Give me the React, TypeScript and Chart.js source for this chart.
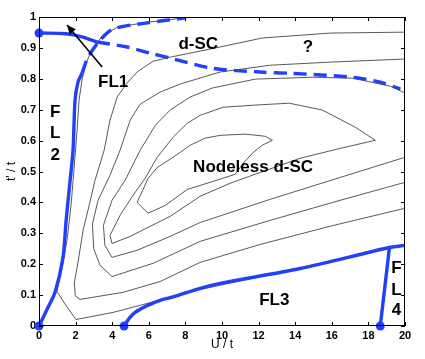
import React, { useEffect, useRef } from 'react';
import { Chart, registerables } from 'chart.js';
Chart.register(...registerables);

// ---- axes ----
const xTicks = [0, 2, 4, 6, 8, 10, 12, 14, 16, 18, 20];
const yTicks = [0, 0.1, 0.2, 0.3, 0.4, 0.5, 0.6, 0.7, 0.8, 0.9, 1];
const yTickLabels = ['0', '0.1', '0.2', '0.3', '0.4', '0.5', '0.6', '0.7', '0.8', '0.9', '1'];
const xTitle = 'U / t';
const yTitle = "t' / t";

// ---- phase boundaries (U/t, t'/t) ----
const fl1Solid: number[][] = [[0, 0.948], [1.5, 0.946], [2.4, 0.935], [3.17, 0.919]];
const fl1Dashed: number[][] = [[3.17, 0.919], [4.81, 0.903], [6.07, 0.883], [7.17, 0.867], [9.46, 0.834], [12.09, 0.822], [13.68, 0.818], [17.12, 0.805], [18.65, 0.789], [19.75, 0.767]];
const fl2Solid: number[][] = [[0, 0], [0.44, 0.054], [0.88, 0.11], [1.31, 0.222], [1.48, 0.34], [1.59, 0.407], [1.7, 0.471], [1.86, 0.569], [1.97, 0.731], [2.13, 0.789], [2.35, 0.818]];
const upperDashed: number[][] = [[2.35, 0.818], [2.68, 0.87], [3.34, 0.925], [4.05, 0.961], [5.91, 0.981], [7.99, 0.997]];
const fl3Solid: number[][] = [[4.65, 0], [4.92, 0.024], [5.25, 0.044], [5.91, 0.066], [6.62, 0.083], [7.33, 0.094], [8.81, 0.122], [9.9, 0.138], [14.28, 0.186], [19.15, 0.254], [20, 0.261]];
const fl4Solid: number[][] = [[19.15, 0.254], [18.65, 0]];
const endDots: number[][] = [[0, 0.948], [0, 0], [4.65, 0], [18.65, 0]];
const arrowLine: number[][] = [[3.45, 0.838], [1.53, 0.974]];

// ---- contour lines of the order parameter ----
const contour0: number[][] = [[8.37, 1.0], [7.88, 0.997], [6.07, 0.984], [4.32, 0.968], [3.5, 0.941], [2.95, 0.899], [2.57, 0.851], [2.35, 0.796], [2.19, 0.731], [2.08, 0.633], [1.91, 0.504], [1.75, 0.39], [1.53, 0.277], [1.26, 0.186], [0.98, 0.112], [1.48, 0.066], [2.02, 0.021], [4.05, 0.044], [5.91, 0.073], [7.44, 0.096], [8.81, 0.118], [12.09, 0.16], [15.92, 0.209], [19.15, 0.251], [20, 0.261]];
const contour1: number[][] = [[20, 0.951], [15.92, 0.948], [12.2, 0.932], [9.9, 0.903], [7.17, 0.87], [6.24, 0.857], [5.36, 0.822], [4.81, 0.786], [4.27, 0.741], [3.88, 0.666], [3.56, 0.569], [3.06, 0.471], [2.74, 0.39], [2.41, 0.31], [2.13, 0.206], [1.93, 0.14], [1.98, 0.098], [2.24, 0.086], [4.6, 0.109], [6.62, 0.144], [8.81, 0.206], [12.09, 0.264], [15.92, 0.323], [20, 0.381]];
const contour2: number[][] = [[20, 0.864], [15.92, 0.854], [12.64, 0.844], [9.9, 0.822], [7.71, 0.783], [6.62, 0.757], [5.53, 0.718], [4.98, 0.666], [4.43, 0.569], [3.88, 0.488], [3.23, 0.407], [2.92, 0.33], [2.99, 0.25], [3.34, 0.196], [3.99, 0.16], [6.24, 0.203], [8.81, 0.274], [12.64, 0.342], [16.47, 0.407], [20, 0.465]];
const contour3: number[][] = [[20, 0.754], [19.2, 0.776], [17.12, 0.802], [14.93, 0.805], [11.82, 0.799], [9.46, 0.77], [8.26, 0.741], [7.17, 0.699], [6.35, 0.649], [5.53, 0.569], [4.7, 0.471], [3.99, 0.407], [3.52, 0.326], [3.6, 0.261], [3.99, 0.222], [5.36, 0.245], [7.17, 0.29], [8.81, 0.335], [12.64, 0.41], [16.47, 0.481], [20, 0.546]];
const contour4: number[][] = [[18.38, 0.601], [17.29, 0.643], [15.48, 0.699], [13.68, 0.721], [11.82, 0.715], [10.07, 0.708], [8.81, 0.682], [8.1, 0.656], [7.33, 0.611], [6.46, 0.546], [5.8, 0.478], [5.14, 0.423], [4.43, 0.358], [3.88, 0.293], [3.99, 0.267], [4.98, 0.29], [7.17, 0.355], [8.81, 0.42], [10.45, 0.462], [12.09, 0.497], [14.28, 0.543], [16.47, 0.575], [18.38, 0.601]];
const contour5: number[][] = [[5.36, 0.4], [5.69, 0.442], [5.96, 0.478], [6.46, 0.513], [7.33, 0.546], [8.26, 0.585], [9.08, 0.608], [9.9, 0.617], [11.27, 0.621], [12.36, 0.614], [12.75, 0.601], [12.2, 0.585], [11.71, 0.562], [11.16, 0.527], [10.72, 0.491], [9.35, 0.465], [8.1, 0.442], [6.89, 0.39], [5.96, 0.365], [5.36, 0.4]];
const contours = [contour0, contour1, contour2, contour3, contour4, contour5];

// ---- text annotations (data coordinates) ----
const annotationTexts = ['d-SC', '?', 'FL1', 'F', 'L', '2', 'Nodeless d-SC', 'FL3', 'F', 'L', '4'];
const annotationX = [8.7, 14.7, 4.05, 0.88, 0.88, 0.88, 11.7, 12.86, 19.53, 19.53, 19.53];
const annotationY = [0.912, 0.903, 0.789, 0.692, 0.624, 0.553, 0.513, 0.083, 0.186, 0.115, 0.05];

const BLUE = 'rgb(32,64,250)';
const FONT = '"Liberation Sans", Arial, Helvetica, sans-serif';

const toXY = (pts: number[][]) => pts.map(([x, y]) => ({ x, y }));

const overlayPlugin = {
  id: 'overlay',
  afterDatasetsDraw(chart: any) {
    const { ctx, chartArea, scales } = chart;
    const { left, right, top, bottom } = chartArea;
    const xs = scales.x;
    const ys = scales.y;
    ctx.save();
    // frame
    ctx.strokeStyle = '#000';
    ctx.lineWidth = 1;
    ctx.strokeRect(left + 0.5, top + 0.5, right - left - 1, bottom - top - 1);
    // inward ticks on all sides
    const tl = 4;
    ctx.beginPath();
    xTicks.forEach((v) => {
      const px = Math.round(xs.getPixelForValue(v)) + 0.5;
      ctx.moveTo(px, bottom);
      ctx.lineTo(px, bottom - tl);
      ctx.moveTo(px, top);
      ctx.lineTo(px, top + tl);
    });
    yTicks.forEach((v) => {
      const py = Math.round(ys.getPixelForValue(v)) + 0.5;
      ctx.moveTo(left, py);
      ctx.lineTo(left + tl, py);
      ctx.moveTo(right, py);
      ctx.lineTo(right - tl, py);
    });
    ctx.stroke();
    // arrow head
    const [t0, t1] = arrowLine;
    const ax0 = xs.getPixelForValue(t0[0]);
    const ay0 = ys.getPixelForValue(t0[1]);
    const ax1 = xs.getPixelForValue(t1[0]);
    const ay1 = ys.getPixelForValue(t1[1]);
    const ang = Math.atan2(ay1 - ay0, ax1 - ax0);
    const hl = 9;
    const hw = 4;
    ctx.fillStyle = '#000';
    ctx.beginPath();
    ctx.moveTo(ax1, ay1);
    ctx.lineTo(ax1 - hl * Math.cos(ang) + hw * Math.sin(ang), ay1 - hl * Math.sin(ang) - hw * Math.cos(ang));
    ctx.lineTo(ax1 - hl * Math.cos(ang) - hw * Math.sin(ang), ay1 - hl * Math.sin(ang) + hw * Math.cos(ang));
    ctx.closePath();
    ctx.fill();
    // text labels
    ctx.font = `bold 17px ${FONT}`;
    ctx.textAlign = 'center';
    ctx.textBaseline = 'middle';
    annotationTexts.forEach((t, i) => {
      ctx.fillText(t, xs.getPixelForValue(annotationX[i]), ys.getPixelForValue(annotationY[i]));
    });
    ctx.restore();
  },
};

export default function App() {
  const canvasRef = useRef<HTMLCanvasElement | null>(null);

  useEffect(() => {
    if (!canvasRef.current) return;
    Chart.defaults.font.family = FONT;
    const datasets: any[] = [
      { data: toXY(endDots), showLine: false, pointRadius: 4.5, pointHoverRadius: 4.5, pointBackgroundColor: BLUE, pointBorderWidth: 0, borderColor: BLUE, clip: false },
      { data: toXY(arrowLine), borderColor: '#000', borderWidth: 1.6, pointRadius: 0, tension: 0 },
      { data: toXY(fl1Solid), borderColor: BLUE, borderWidth: 3.4, pointRadius: 0, tension: 0.3 },
      { data: toXY(fl2Solid), borderColor: BLUE, borderWidth: 3.4, pointRadius: 0, tension: 0.3 },
      { data: toXY(fl3Solid), borderColor: BLUE, borderWidth: 3.4, pointRadius: 0, tension: 0.3 },
      { data: toXY(fl4Solid), borderColor: BLUE, borderWidth: 3.4, pointRadius: 0, tension: 0 },
      { data: toXY(fl1Dashed), borderColor: BLUE, borderWidth: 3.4, borderDash: [13, 7], pointRadius: 0, tension: 0.3 },
      { data: toXY(upperDashed), borderColor: BLUE, borderWidth: 3.4, borderDash: [13, 7], pointRadius: 0, tension: 0.3 },
      ...contours.map((c) => ({ data: toXY(c), borderColor: '#222', borderWidth: 0.75, pointRadius: 0, tension: 0 })),
    ];
    const chart = new Chart(canvasRef.current, {
      type: 'line',
      data: { datasets },
      options: {
        animation: false,
        responsive: false,
        devicePixelRatio: 1,
        layout: { padding: { left: 0, top: 17, right: 20, bottom: 0 } },
        plugins: { legend: { display: false }, tooltip: { enabled: false } },
        events: [],
        scales: {
          x: {
            type: 'linear',
            min: 0,
            max: 20,
            grid: { display: false, drawTicks: false },
            border: { display: false },
            afterBuildTicks: (s: any) => { s.ticks = xTicks.map((value) => ({ value })); },
            afterFit: (s: any) => { s.height = 33; },
            ticks: { color: '#000', padding: 3, maxRotation: 0, autoSkip: false, font: { size: 11, weight: 'bold' }, callback: (v: any) => String(v) },
            title: { display: true, text: xTitle, color: '#000', font: { size: 12 }, padding: { top: 0, bottom: 7 } },
          },
          y: {
            type: 'linear',
            min: 0,
            max: 1,
            grid: { display: false, drawTicks: false },
            border: { display: false },
            afterBuildTicks: (s: any) => { s.ticks = yTicks.map((value) => ({ value })); },
            afterFit: (s: any) => { s.width = 39; },
            ticks: { color: '#000', padding: 3, autoSkip: false, font: { size: 11, weight: 'bold' }, callback: (v: any) => yTickLabels[yTicks.indexOf(v)] ?? String(v) },
            title: { display: true, text: yTitle, color: '#000', font: { size: 12 }, padding: { top: 4, bottom: 0 } },
          },
        },
      },
      plugins: [overlayPlugin],
    });
    return () => chart.destroy();
  }, []);

  return (
    <div style={{ position: 'absolute', left: 0, top: 0, width: 425, height: 359, background: '#fff' }}>
      <canvas ref={canvasRef} width={425} height={359} style={{ display: 'block' }} />
    </div>
  );
}
